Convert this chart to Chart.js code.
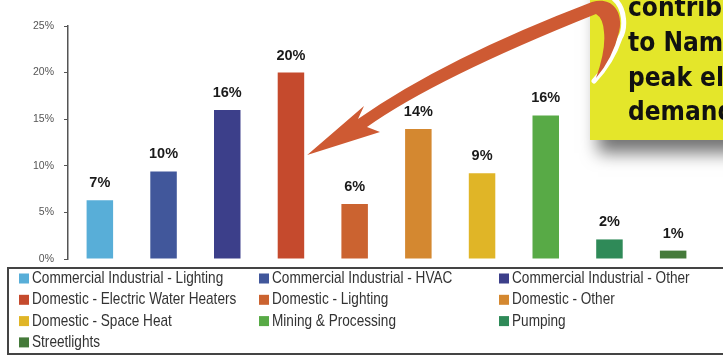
<!DOCTYPE html>
<html>
<head>
<meta charset="utf-8">
<script src="https://cdn.jsdelivr.net/npm/chart.js@4"></script>
<style>
  html, body { margin: 0; padding: 0; background: #ffffff; }
  #wrap { position: relative; width: 723px; height: 360px; }
</style>
</head>
<body>
<div id="wrap"><canvas id="c" width="723" height="360"></canvas></div>
<script>
// ---- data ----
const categories = [
  'Commercial Industrial - Lighting',
  'Commercial Industrial - HVAC',
  'Commercial Industrial - Other',
  'Domestic - Electric Water Heaters',
  'Domestic - Lighting',
  'Domestic - Other',
  'Domestic - Space Heat',
  'Mining & Processing',
  'Pumping',
  'Streetlights'
];
const values = [6.3, 9.4, 16.0, 20.0, 5.9, 13.95, 9.2, 15.4, 2.1, 0.9];
const valueLabels = ['7%', '10%', '16%', '20%', '6%', '14%', '9%', '16%', '2%', '1%'];
const barColors = ['#58AED8', '#41579B', '#3C3F8A', '#C54A2D', '#CB6330', '#D48830', '#E0B527', '#58AA46', '#2F8A58', '#457A3A'];
const yTickValues = [0, 5, 10, 15, 20, 25];
const calloutLines = ['contribution', "to Namibia's", 'peak electricity', 'demand'];

const SANS = '"Liberation Sans", Arial, sans-serif';

// value labels above the bars
const valueLabelPlugin = {
  id: 'valueLabels',
  afterDatasetsDraw(chart) {
    const ctx = chart.ctx;
    const meta = chart.getDatasetMeta(0);
    ctx.save();
    ctx.font = 'bold 14.5px ' + SANS;
    ctx.fillStyle = '#1a1a1a';
    ctx.textAlign = 'center';
    ctx.textBaseline = 'middle';
    meta.data.forEach((el, i) => {
      ctx.fillText(valueLabels[i], el.x, el.y - 17);
    });
    ctx.restore();
  }
};

// callout box + curved arrow
const calloutPlugin = {
  id: 'callout',
  afterDatasetsDraw(chart) {
    const ctx = chart.ctx;
    const bar = chart.getDatasetMeta(0).data[3];
    ctx.save();
    // yellow box with shadow
    ctx.shadowColor = 'rgba(0,0,0,0.55)';
    ctx.shadowBlur = 16;
    ctx.shadowOffsetX = 8;
    ctx.shadowOffsetY = 13;
    ctx.fillStyle = '#E4E62A';
    ctx.fillRect(590, -20, 200, 160);
    ctx.shadowColor = 'transparent';
    ctx.fillStyle = '#111111';
    ctx.font = 'bold 26px "DejaVu Sans", sans-serif';
    ctx.textAlign = 'left';
    ctx.textBaseline = 'alphabetic';
    const baselines = [16, 51, 86, 120];
    calloutLines.forEach((t, i) => {
      ctx.save();
      ctx.translate(628, baselines[i]);
      ctx.scale(0.9, 1);
      ctx.fillText(t, 0, 0);
      ctx.restore();
    });

    // arrow
    const tx = bar.x + bar.width / 2 + 3;
    const ty = 155;
    // white outline along the hook
    ctx.strokeStyle = '#ffffff';
    ctx.lineWidth = 5;
    ctx.lineCap = 'round';
    ctx.beginPath();
    ctx.moveTo(612, -3);
    ctx.bezierCurveTo(627, 8, 625, 30, 620, 38);
    ctx.quadraticCurveTo(612, 62, 594, 81);
    ctx.stroke();

    ctx.fillStyle = '#CE5A33';
    ctx.beginPath();
    ctx.moveTo(tx, ty);
    ctx.lineTo(364, 106);
    ctx.lineTo(358, 119);
    ctx.quadraticCurveTo(445, 58, 592, 2);
    ctx.bezierCurveTo(612, -4, 624, 12, 619, 32);
    ctx.quadraticCurveTo(613, 58, 596, 78);
    ctx.quadraticCurveTo(606, 50, 604, 32);
    ctx.quadraticCurveTo(603, 18, 596, 14);
    ctx.quadraticCurveTo(436, 78, 367, 127);
    ctx.lineTo(380, 132);
    ctx.closePath();
    ctx.fill();
    ctx.restore();
  }
};

// legend drawn in three columns
const legendPlugin = {
  id: 'gridLegend',
  afterDraw(chart) {
    const ctx = chart.ctx;
    ctx.save();
    ctx.strokeStyle = '#444444';
    ctx.lineWidth = 2;
    ctx.beginPath();
    ctx.moveTo(730, 268);
    ctx.lineTo(8, 268);
    ctx.lineTo(8, 354);
    ctx.lineTo(730, 354);
    ctx.stroke();
    ctx.textBaseline = 'middle';
    ctx.textAlign = 'left';
    ctx.font = '17px ' + SANS;
    categories.forEach((name, i) => {
      const col = i % 3, row = Math.floor(i / 3);
      const x = 19 + col * 240;
      const yc = 278.5 + row * 21.3;
      ctx.fillStyle = barColors[i];
      ctx.fillRect(x, yc - 5, 10, 10);
      ctx.fillStyle = '#333333';
      ctx.save();
      ctx.translate(x + 13, yc);
      ctx.scale(0.8, 1);
      ctx.fillText(name, 0, 0);
      ctx.restore();
    });
    ctx.restore();
  }
};

new Chart(document.getElementById('c'), {
  type: 'bar',
  data: {
    labels: categories,
    datasets: [{
      data: values,
      backgroundColor: barColors,
      borderWidth: 0,
      categoryPercentage: 1,
      barPercentage: 0.416
    }]
  },
  options: {
    responsive: false,
    animation: false,
    devicePixelRatio: 1,
    layout: { padding: { top: 26, right: 18, bottom: 101, left: 0 } },
    plugins: { legend: { display: false }, tooltip: { enabled: false } },
    scales: {
      x: { display: false },
      y: {
        min: 0,
        max: 25,
        afterBuildTicks(scale) { scale.ticks = yTickValues.map(v => ({ value: v })); },
        afterFit(scale) { scale.width = 68; },
        ticks: {
          callback: v => v + '%',
          color: '#555555',
          font: { size: 10.5, family: SANS },
          padding: 10
        },
        grid: { drawOnChartArea: false, tickLength: 4, color: '#555555', lineWidth: 1 },
        border: { color: '#555555', width: 1.5 }
      }
    }
  },
  plugins: [valueLabelPlugin, calloutPlugin, legendPlugin]
});
</script>
</body>
</html>
